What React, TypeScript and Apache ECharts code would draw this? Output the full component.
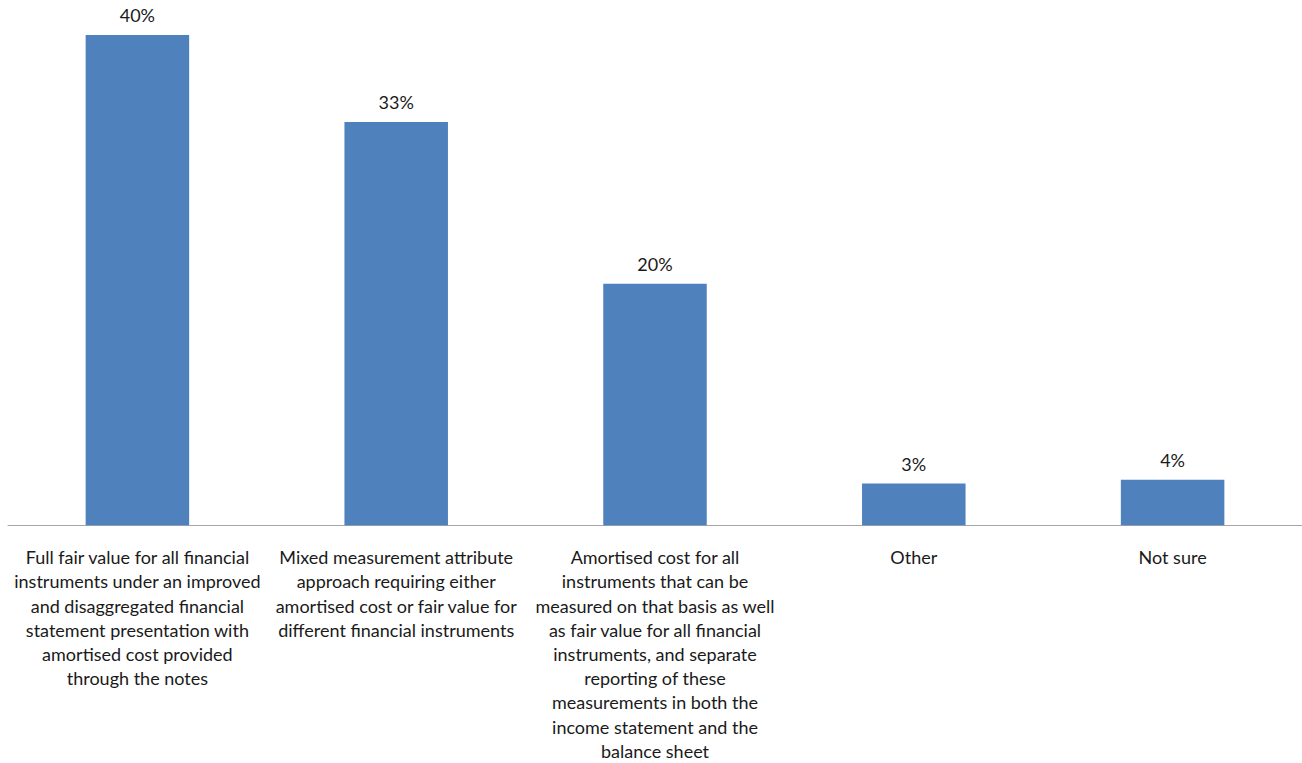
import React, { useEffect, useRef } from "react";
import * as echarts from "echarts";

const categories: string[] = [
  "Full fair value for all financial\ninstruments under an improved\nand disaggregated financial\nstatement presentation with\namortised cost provided\nthrough the notes",
  "Mixed measurement attribute\napproach requiring either\namortised cost or fair value for\ndifferent financial instruments",
  "Amortised cost for all\ninstruments that can be\nmeasured on that basis as well\nas fair value for all financial\ninstruments, and separate\nreporting of these\nmeasurements in both the\nincome statement and the\nbalance sheet",
  "Other",
  "Not sure",
];
const values: number[] = [40.0, 32.9, 19.7, 3.4, 3.7];

export default function App() {
  const ref = useRef<HTMLDivElement>(null);
  useEffect(() => {
    document.body.style.margin = "0";
    const chart = echarts.init(ref.current!, null, { renderer: "svg" });
    const font = "Lato, 'Open Sans', sans-serif";
    chart.setOption({
      animation: false,
      textStyle: { fontFamily: font },
      grid: { left: 8, right: 0, top: 35, bottom: 234, containLabel: false },
      xAxis: {
        type: "category",
        data: categories,
        axisLine: { show: true, lineStyle: { color: "#a6a6a6", width: 1 } },
        axisTick: { show: false },
        axisLabel: {
          interval: 0,
          margin: 20,
          color: "#1a1a1a",
          fontSize: 18,
          lineHeight: 24.2,
          fontFamily: font,
          align: "center",
        },
      },
      yAxis: {
        type: "value",
        min: 0,
        max: 40,
        show: false,
        splitLine: { show: false },
      },
      series: [
        {
          type: "bar",
          data: values,
          barWidth: "40%",
          itemStyle: { color: "#4f81bd" },
          label: {
            show: true,
            position: "top",
            distance: 11,
            color: "#1a1a1a",
            fontSize: 18,
            fontFamily: font,
            formatter: (p: any) => Math.round(p.value) + "%",
          },
        },
      ],
    });
    return () => chart.dispose();
  }, []);
  return <div ref={ref} style={{ width: 1302, height: 763 }} />;
}
